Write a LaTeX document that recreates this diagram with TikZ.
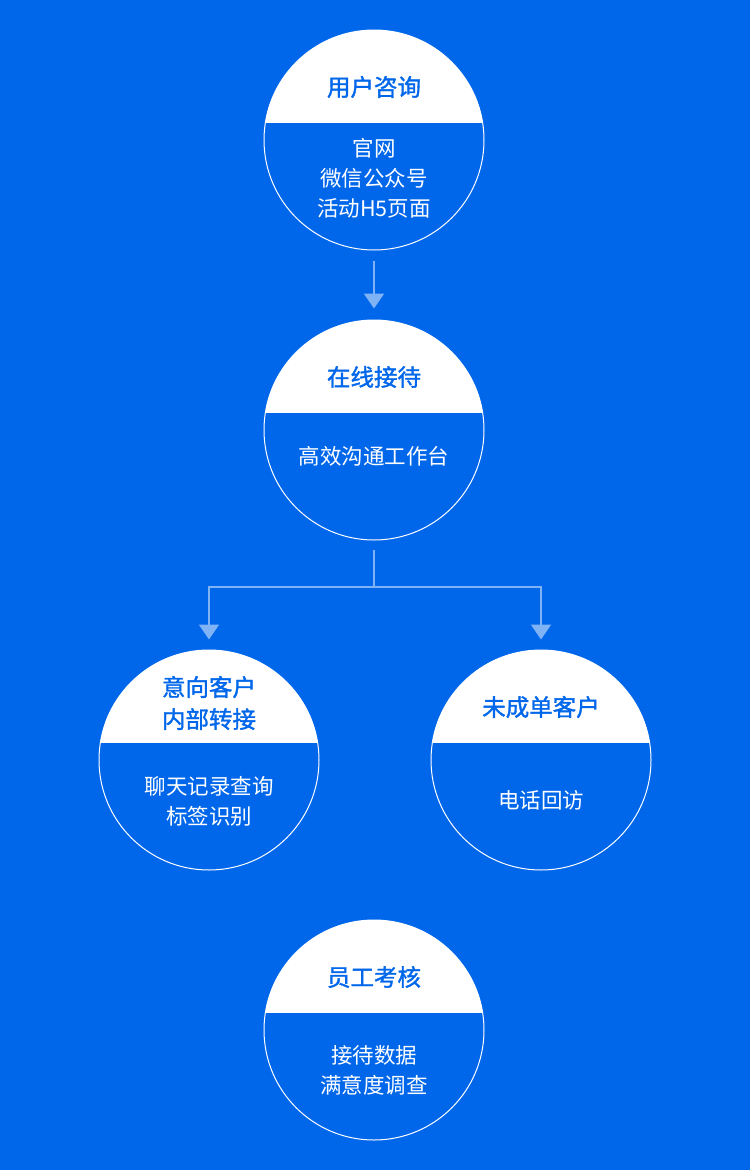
\documentclass[tikz,border=0pt]{standalone}
\usepackage{fontspec}
\newfontfamily\cjk{Noto Sans CJK SC}
\newfontfamily\cjkmedium[FakeBold=1.5]{Noto Sans CJK SC}
\usepackage{tikz}
\usetikzlibrary{positioning}
\usetikzlibrary{arrows.meta}

\definecolor{bgblue}{HTML}{0067EB}
\definecolor{linkblue}{HTML}{80B3F5}

\begin{document}
\begin{tikzpicture}[
            x = 1pt, y = -1pt, % pixel units, y down
            > = {Triangle[width=20pt,length=15pt]}, % arrow head style
            node distance = 290pt % distance between nodes
        ]

        \tikzstyle{stage}=[
            circle,
            draw = white,
            line width = 1pt,
            fill = bgblue,
            minimum size = 220pt,
            inner sep = 0pt,
            path picture = {\fill[white] (path picture bounding box.north west)
                rectangle ([yshift=17pt]path picture bounding box.east);}
        ]
        \tikzstyle{title}=[
            text = bgblue,
            align = center,
            font = \cjkmedium\fontsize{23.5}{32}\selectfont
        ]
        \tikzstyle{body}=[
            text = white,
            align = center,
            font = \cjk\fontsize{21.5}{30}\selectfont
        ]
        \tikzstyle{link}=[
            draw = linkblue,
            line width = 2pt
        ]

        % background
        \fill[bgblue] (0,0) rectangle (750,1170);

	% consulting
        \node[stage] (consult) at (374,140) {};
        \node[title, above of = consult, node distance = 53pt] (consult title) {用户咨询};
        \node[body, below of = consult, node distance = 38pt] (consult body) {官网\\微信公众号\\活动H5页面};

	% reception
        \node[stage] (reception) [below of = consult] {};
        \node[title, above of = reception, node distance = 53pt] (reception title) {在线接待};
        \node[body, below of = reception, node distance = 26pt] (reception body) {高效沟通工作台};

        \draw[link, ->, shorten <= 10pt, shorten >= 11pt] (consult) -- (reception);

	% customers
        \node[stage] (intent) [below of = reception, node distance = 330pt, xshift = -165pt] {};
        \node[title, above of = intent, node distance = 57pt] (intent title) {意向客户\\内部转接};
        \node[body, below of = intent, node distance = 41pt] (intent body) {聊天记录查询\\标签识别};

        \node[stage] (lost) [below of = reception, node distance = 330pt, xshift = 167pt] {};
        \node[title, above of = lost, node distance = 53pt] (lost title) {未成单客户};
        \node[body, below of = lost, node distance = 40pt] (lost body) {电话回访};

        \coordinate (fork) at (374,587);
        \draw[link, shorten <= 9pt] (reception) -- (fork);
        \draw[link, ->, shorten >= 10pt] (fork) -| (intent);
        \draw[link, ->, shorten >= 10pt] (fork) -| (lost);

	% staff review
        \node[stage] (review) [below of = reception, node distance = 600pt] {};
        \node[title, above of = review, node distance = 53pt] (review title) {员工考核};
        \node[body, below of = review, node distance = 40pt] (review body) {接待数据\\满意度调查};

  \end{tikzpicture}
\end{document}
